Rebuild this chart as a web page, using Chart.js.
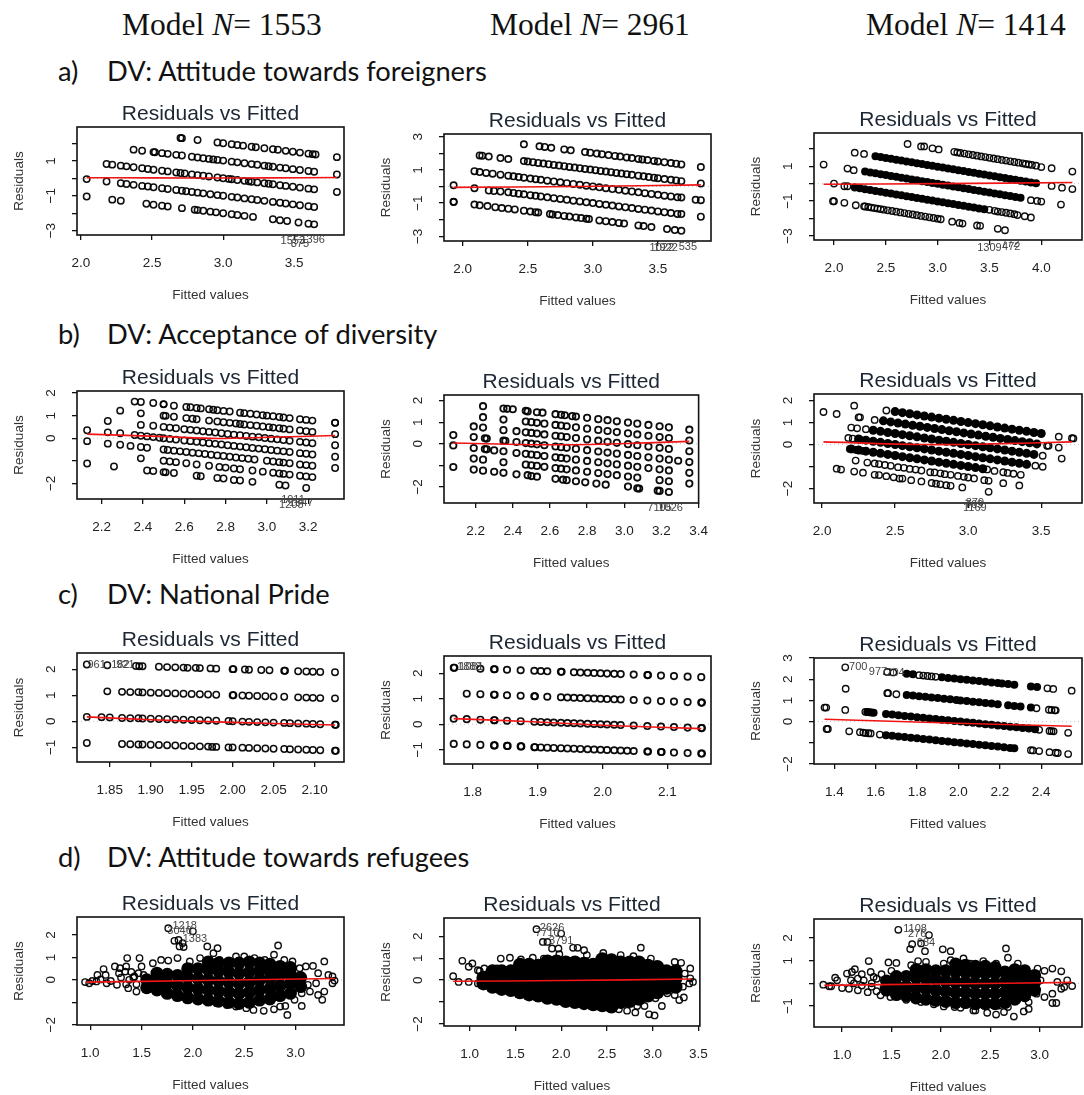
<!DOCTYPE html>
<html>
<head>
<meta charset="utf-8">
<title>Residuals vs Fitted</title>
<script src="https://cdn.jsdelivr.net/npm/chart.js@4/dist/chart.umd.min.js"></script>
<style>
  html, body { margin: 0; padding: 0; background: #fff; overflow: hidden; width: 1084px; height: 1095px; }
  canvas { position: absolute; filter: blur(0.4px); }
  .head { position: absolute; font-family: "Liberation Serif", serif; font-size: 31.5px; line-height: 36px; color: #111; white-space: pre; }
  .dv { position: absolute; font-family: Lato, sans-serif; font-size: 27.3px; line-height: 32px; color: #111; white-space: pre; }
</style>
</head>
<body>
<span class="head" style="left:122px;top:7px">Model <i>N</i>= 1553</span>
<span class="head" style="left:490px;top:7px">Model <i>N</i>= 2961</span>
<span class="head" style="left:866px;top:7px">Model <i>N</i>= 1414</span>
<span class="dv" style="left:58px;top:55px">a)</span><span class="dv" style="left:107px;top:55px">DV: Attitude towards foreigners</span>
<span class="dv" style="left:58px;top:318px">b)</span><span class="dv" style="left:107px;top:318px">DV: Acceptance of diversity</span>
<span class="dv" style="left:58px;top:578px">c)</span><span class="dv" style="left:107px;top:578px">DV: National Pride</span>
<span class="dv" style="left:58px;top:841px">d)</span><span class="dv" style="left:107px;top:841px">DV: Attitude towards refugees</span>
<script>
// [fitted, residual], panel by panel
const a1Points = [[2.7,2.32],[2.71,2.31],[2.82,2.2],[2.96,2.06],[3,2.02],[3.06,1.96],[3.1,1.92],[3.14,1.88],[3.2,1.82],[3.23,1.79],[3.29,1.73],[3.35,1.67],[3.385,1.64],[3.44,1.58],[3.49,1.53],[3.54,1.48],[3.6,1.42],[3.63,1.39],[3.65,1.37],
[2.37,1.65],[2.43,1.59],[2.51,1.51],[2.52,1.5],[2.57,1.45],[2.61,1.41],[2.67,1.35],[2.71,1.31],[2.78,1.24],[2.82,1.2],[2.86,1.16],[2.9,1.12],[2.93,1.09],[2.96,1.06],[3,1.02],[3.06,.96],[3.1,.92],[3.15,.87],[3.2,.82],[3.24,.78],[3.29,.73],[3.32,.7],[3.35,.67],[3.4,.62],[3.44,.58],[3.49,.53],[3.54,.48],[3.6,.42],[3.64,.38],
[2.18,.83],[2.22,.79],[2.28,.73],[2.32,.69],[2.37,.64],[2.43,.58],[2.47,.54],[2.51,.5],[2.57,.44],[2.61,.4],[2.67,.34],[2.7,.31],[2.73,.28],[2.78,.23],[2.82,.19],[2.86,.15],[2.9,.11],[2.96,.05],[3,.01],[3.04,-.03],[3.06,-.05],[3.1,-.09],[3.15,-.14],[3.18,-.17],[3.2,-.19],[3.24,-.23],[3.29,-.28],[3.32,-.31],[3.35,-.34],[3.4,-.39],[3.44,-.43],[3.49,-.48],[3.54,-.53],[3.6,-.59],[3.64,-.63],
[2.04,-.04],[2.18,-.18],[2.28,-.28],[2.32,-.32],[2.37,-.37],[2.43,-.43],[2.47,-.47],[2.51,-.51],[2.57,-.57],[2.61,-.61],[2.67,-.67],[2.71,-.71],[2.74,-.74],[2.78,-.78],[2.82,-.82],[2.86,-.86],[2.91,-.91],[2.96,-.96],[3,-1],[3.06,-1.06],[3.1,-1.1],[3.15,-1.15],[3.2,-1.2],[3.24,-1.24],[3.29,-1.29],[3.35,-1.35],[3.4,-1.4],[3.44,-1.44],[3.49,-1.49],[3.54,-1.54],[3.6,-1.6],[3.64,-1.64],
[2.04,-1.04],[2.22,-1.22],[2.28,-1.28],[2.46,-1.46],[2.51,-1.51],[2.57,-1.57],[2.61,-1.61],[2.71,-1.71],[2.8,-1.8],[2.82,-1.82],[2.86,-1.86],[2.91,-1.91],[2.95,-1.95],[3,-2],[3.06,-2.06],[3.1,-2.1],[3.15,-2.15],[3.21,-2.21],[3.35,-2.35],[3.4,-2.4],[3.45,-2.45],[3.53,-2.53],[3.6,-2.6],[3.64,-2.64],
[3.8,1.22],[3.8,.22],[3.8,-.78]];
const a1Dense = [];
const a1Smooth = [[2.04,.04],[2.5,.03],[3,.02],[3.3,.03],[3.8,.05]];
const a1XTicks = [2,2.5,3,3.5];
const a1YTicks = [-3,-2,-1,0,1,2];
const a1YLabels = [-3,-1,1];
const a1Ids = [["1553",3.49,-3.58],["875",3.54,-3.77],["1396",3.63,-3.54]];

const a2Points = [[2.47,2.54],[2.59,2.42],[2.63,2.38],[2.68,2.33],[2.78,2.23],[2.83,2.18],[2.94,2.07],[2.98,2.03],[3.03,1.98],[3.07,1.94],[3.12,1.89],[3.17,1.84],[3.21,1.8],[3.26,1.75],[3.3,1.71],[3.35,1.66],[3.38,1.63],[3.42,1.59],[3.47,1.54],[3.5,1.51],[3.55,1.46],[3.6,1.41],[3.64,1.37],[3.68,1.33],
[2.13,1.87],[2.15,1.85],[2.2,1.8],[2.29,1.71],[2.35,1.65],[2.47,1.53],[2.5,1.5],[2.54,1.46],[2.58,1.42],[2.62,1.38],[2.66,1.34],[2.7,1.3],[2.74,1.26],[2.78,1.22],[2.82,1.18],[2.86,1.14],[2.9,1.1],[2.94,1.06],[2.98,1.02],[3.02,.98],[3.06,.94],[3.1,.9],[3.14,.86],[3.18,.82],[3.22,.78],[3.26,.74],[3.3,.7],[3.35,.65],[3.39,.61],[3.43,.57],[3.47,.53],[3.5,.5],[3.55,.45],[3.6,.4],[3.64,.36],[3.68,.32],
[2.09,.92],[2.13,.87],[2.18,.82],[2.23,.77],[2.29,.71],[2.35,.65],[2.39,.61],[2.43,.57],[2.47,.53],[2.52,.48],[2.56,.44],[2.6,.4],[2.65,.35],[2.7,.3],[2.75,.25],[2.8,.2],[2.85,.15],[2.9,.1],[2.95,.05],[3,0],[3.05,-.05],[3.1,-.1],[3.15,-.15],[3.2,-.2],[3.25,-.25],[3.3,-.3],[3.35,-.35],[3.4,-.4],[3.45,-.45],[3.5,-.5],[3.55,-.55],[3.6,-.6],[3.65,-.65],[3.68,-.66],
[1.93,.07],[2.09,-.1],[2.2,-.24],[2.24,-.27],[2.29,-.3],[2.35,-.35],[2.39,-.39],[2.43,-.43],[2.47,-.47],[2.52,-.52],[2.56,-.56],[2.6,-.6],[2.65,-.65],[2.7,-.7],[2.75,-.75],[2.8,-.8],[2.85,-.85],[2.9,-.9],[2.95,-.95],[3,-1],[3.05,-1.05],[3.1,-1.1],[3.15,-1.15],[3.2,-1.2],[3.25,-1.25],[3.3,-1.3],[3.35,-1.35],[3.4,-1.4],[3.45,-1.45],[3.5,-1.5],[3.55,-1.55],[3.6,-1.6],[3.65,-1.65],[3.68,-1.66],
[1.93,-.92],[1.93,-.93],[2.09,-1.09],[2.13,-1.13],[2.19,-1.18],[2.25,-1.25],[2.3,-1.3],[2.35,-1.34],[2.4,-1.38],[2.47,-1.46],[2.52,-1.51],[2.56,-1.55],[2.58,-1.57],[2.67,-1.66],[2.69,-1.68],[2.73,-1.72],[2.78,-1.77],[2.82,-1.81],[2.87,-1.86],[2.91,-1.9],[2.95,-1.94],[2.97,-1.96],[3.05,-2.04],[3.1,-2.09],[3.15,-2.14],[3.2,-2.19],[3.24,-2.23],[3.35,-2.34],[3.39,-2.38],[3.45,-2.44],[3.57,-2.56],[3.63,-2.62],[3.68,-2.67],
[3.83,1.17],[3.83,.18],[3.83,-.82],[3.83,-1.82],[3.79,-.8]];
const a2Dense = [];
const a2Smooth = [[1.93,-.05],[2.88,0],[3.83,.1]];
const a2XTicks = [2,2.5,3,3.5];
const a2YTicks = [-3,-2,-1,0,1,2,3];
const a2YLabels = [-3,-1,1,3];
const a2Ids = [["1922",3.56,-3.7],["1022",3.53,-3.72],["535",3.73,-3.66]];

const a3Points = [[1.9,1.09],[2,0],[2.1,-.15],[2.13,-.15],[1.99,-1.01],[2,-1.01],[2.1,-1.1],[2.13,.86],[2.19,.77],[2.2,1.77],[2.29,1.7],[2.21,-1.24],[2.29,-1.3],[2.71,2.27],[2.84,2.13],[2.87,2.13],[2.95,2.02],[3.01,1.96],[4.3,.69],[4.3,-.31],[4.2,-.23],[4.19,-1.2],[4.1,.88],[4.1,-.13],[4,.95],[3.96,-.99],[4,-1.03],[3.9,-.95],[3.9,-1.94],[3.84,-1.87],[3.77,-1.8],[3.58,-2.59],[3.65,-2.67],[3.38,-2.4],[3.41,-2.42],[3.24,-2.29],[3.21,-2.25],[3.14,-2.18],
[3.16,1.82],[3.19,1.79],[3.22,1.76],[3.26,1.72],[3.3,1.68],[3.34,1.64],[3.38,1.6],[3.42,1.56],[3.46,1.52],[3.5,1.48],[3.54,1.44],[3.58,1.4],[3.62,1.36],[3.66,1.32],[3.7,1.28],[3.74,1.24],[3.78,1.2],[3.82,1.16],[3.85,1.13],[3.88,1.1],[3.91,1.07],[3.95,1.03],
[2.3,-1.31],[2.33,-1.34],[2.36,-1.37],[2.39,-1.4],[2.42,-1.43],[2.45,-1.46],[2.48,-1.49],[2.52,-1.53],[2.56,-1.57],[2.6,-1.61],[2.64,-1.65],[2.68,-1.69],[2.72,-1.73],[2.76,-1.77],[2.8,-1.81],[2.84,-1.85],[2.88,-1.89],[2.92,-1.93],[2.96,-1.97],[3,-2.01],[3.03,-2.04],
[3.5,-1.5],[3.55,-1.56],[3.58,-1.6],[3.62,-1.63],[3.66,-1.67],[3.7,-1.71],[3.74,-1.75]];
const a3Dense = [[2.4,1.57],[2.45,1.52],[2.5,1.47],[2.55,1.42],[2.6,1.37],[2.65,1.32],[2.7,1.27],[2.75,1.22],[2.8,1.17],[2.85,1.12],[2.9,1.07],[2.95,1.02],[3,.97],[3.05,.92],[3.1,.87],[3.15,.82],[3.2,.77],[3.25,.72],[3.3,.67],[3.35,.62],[3.4,.57],[3.45,.52],[3.5,.47],[3.55,.42],[3.6,.37],[3.65,.32],[3.7,.27],[3.75,.22],[3.8,.17],[3.85,.12],[3.9,.07],[3.95,.02],
[2.3,.69],[2.35,.64],[2.4,.59],[2.45,.54],[2.5,.49],[2.55,.44],[2.6,.39],[2.65,.34],[2.7,.29],[2.75,.24],[2.8,.19],[2.85,.14],[2.9,.09],[2.95,.04],[3,-.01],[3.05,-.06],[3.1,-.11],[3.15,-.16],[3.2,-.21],[3.25,-.26],[3.3,-.31],[3.35,-.36],[3.4,-.41],[3.45,-.46],[3.5,-.51],[3.55,-.56],[3.6,-.61],[3.65,-.66],[3.7,-.71],[3.75,-.76],[3.8,-.81],
[2.2,-.22],[2.25,-.27],[2.3,-.32],[2.35,-.37],[2.4,-.42],[2.45,-.47],[2.5,-.52],[2.55,-.57],[2.6,-.62],[2.65,-.67],[2.7,-.72],[2.75,-.77],[2.8,-.82],[2.85,-.87],[2.9,-.92],[2.95,-.97],[3,-1.02],[3.05,-1.07],[3.1,-1.12],[3.15,-1.17],[3.2,-1.22],[3.25,-1.27],[3.3,-1.32],[3.35,-1.37],[3.4,-1.42],[3.45,-1.47]];
const a3Smooth = [[1.9,-.04],[3,0],[4.3,.06]];
const a3XTicks = [2,2.5,3,3.5,4];
const a3YTicks = [-3,-2,-1,0,1,2];
const a3YLabels = [-3,-1,1];
const a3Ids = [["1309",3.5,-3.66],["472",3.71,-3.62],["772",3.7,-3.43]];

const b1Points = [[2.36,1.62],[2.39,1.6],[2.45,1.56],[2.5,1.51],[2.5,1.5],[2.55,1.44],[2.61,1.38],[2.63,1.37],[2.66,1.34],[2.68,1.32],[2.72,1.28],[2.74,1.26],[2.76,1.24],[2.79,1.21],[2.82,1.18],[2.87,1.13],[2.89,1.11],[2.92,1.08],[2.95,1.05],[2.98,1.02],[3,1],[3.03,.97],[3.06,.94],[3.08,.92],[3.11,.89],[3.16,.84],[3.19,.81],[3.22,.78],
[2.39,1.1],[2.5,1],[2.51,.99],[2.55,.95],[2.61,.89],[2.64,.86],[2.66,.84],[2.72,.78],[2.76,.74],[2.79,.71],[2.82,.68],[2.85,.65],[2.87,.63],[2.89,.61],[2.92,.58],[2.95,.55],[2.98,.52],[3.01,.49],[3.03,.47],[3.06,.44],[3.08,.42],[3.11,.39],[3.16,.34],[3.19,.31],[3.22,.28],
[2.39,.59],[2.45,.55],[2.5,.5],[2.53,.47],[2.56,.44],[2.6,.4],[2.63,.37],[2.66,.34],[2.69,.31],[2.72,.28],[2.75,.25],[2.78,.22],[2.81,.19],[2.84,.16],[2.87,.13],[2.9,.1],[2.93,.07],[2.96,.04],[2.99,.01],[3.02,-.02],[3.05,-.05],[3.08,-.08],[3.11,-.11],[3.16,-.16],[3.19,-.19],[3.22,-.22],
[2.36,.14],[2.39,.11],[2.42,.08],[2.45,.05],[2.48,.02],[2.5,0],[2.53,-.03],[2.56,-.06],[2.6,-.1],[2.63,-.13],[2.66,-.16],[2.69,-.19],[2.72,-.22],[2.75,-.25],[2.78,-.28],[2.81,-.31],[2.84,-.34],[2.87,-.37],[2.9,-.4],[2.93,-.43],[2.96,-.46],[2.99,-.49],[3.02,-.52],[3.05,-.55],[3.08,-.58],[3.11,-.61],[3.16,-.66],[3.19,-.69],[3.22,-.72],
[2.34,-.34],[2.39,-.39],[2.42,-.42],[2.5,-.5],[2.52,-.52],[2.55,-.55],[2.58,-.58],[2.61,-.61],[2.64,-.64],[2.67,-.67],[2.7,-.7],[2.73,-.73],[2.76,-.76],[2.79,-.79],[2.82,-.82],[2.85,-.85],[2.88,-.88],[2.91,-.91],[2.94,-.94],[3,-1],[3.03,-1.03],[3.06,-1.06],[3.08,-1.08],[3.11,-1.11],[3.16,-1.16],[3.19,-1.19],[3.22,-1.22],
[2.39,-.89],[2.5,-1],[2.53,-1.03],[2.56,-1.06],[2.61,-1.11],[2.66,-1.16],[2.72,-1.22],[2.77,-1.27],[2.8,-1.3],[2.84,-1.34],[2.87,-1.37],[2.93,-1.43],[2.98,-1.48],[3.03,-1.53],[3.06,-1.56],[3.08,-1.58],[3.11,-1.61],[3.16,-1.66],[3.19,-1.69],[3.22,-1.72],
[2.42,-1.43],[2.45,-1.45],[2.5,-1.5],[2.51,-1.51],[2.55,-1.54],[2.66,-1.66],[2.68,-1.68],[2.76,-1.76],[2.79,-1.78],[2.84,-1.85],[2.87,-1.87],[2.93,-1.93],[3.06,-2.06],[3.09,-2.09],[3.19,-2.2],
[2.13,.35],[2.13,-.13],[2.13,-1.12],[2.23,.76],[2.23,.26],[2.23,-.24],[2.26,-1.25],[2.29,1.22],[2.29,.22],[2.29,-.29],
[3.33,.69],[3.33,.68],[3.33,.18],[3.33,-.31],[3.33,-.82],[3.33,-1.32]];
const b1Dense = [];
const b1Smooth = [[2.13,.18],[2.51,.07],[2.76,-.01],[3,.04],[3.33,.12]];
const b1XTicks = [2.2,2.4,2.6,2.8,3,3.2];
const b1YTicks = [-2,-1,0,1,2];
const b1YLabels = [-2,0,1,2];
const b1Ids = [["1205",3.118,-2.96],["1347",3.166,-2.85],["1911",3.126,-2.73]];

const b2Points = [[2.08,.4],[2.08,-.08],[2.08,-1.08],[2.19,.8],[2.24,.75],[2.19,.31],[2.25,.25],[2.26,.24],[2.19,-.2],[2.25,-.25],[2.26,-.26],[2.19,-.69],[2.24,-.74],[2.19,-1.2],[2.24,-1.25],[2.24,1.23],[2.24,1.74],[2.3,-.31],[2.35,-.35],[2.35,.14],[2.36,.13],[2.35,.63],[2.35,1.12],[2.35,1.63],[2.37,1.62],[2.4,1.6],[2.35,-.86],[2.35,-1.35],[2.3,-1.3],[2.42,.58],[2.42,.08],[2.42,-.43],[2.42,-1.42],
[2.47,1.53],[2.48,1.5],[2.53,1.46],[2.56,1.44],[2.63,1.37],[2.66,1.34],[2.68,1.32],[2.72,1.28],[2.74,1.26],[2.8,1.2],[2.86,1.14],[2.91,1.09],[2.96,1.04],[3.02,.98],[3.07,.93],[3.13,.87],[3.19,.81],[3.24,.76],
[2.47,1.03],[2.5,1],[2.53,.97],[2.57,.93],[2.63,.87],[2.66,.84],[2.69,.81],[2.74,.76],[2.8,.7],[2.86,.64],[2.91,.59],[2.96,.54],[3.02,.48],[3.07,.43],[3.13,.37],[3.19,.31],[3.24,.26],
[2.47,.53],[2.5,.5],[2.53,.47],[2.57,.43],[2.63,.37],[2.66,.34],[2.69,.31],[2.74,.26],[2.8,.2],[2.86,.14],[2.91,.09],[2.96,.04],[3.02,-.02],[3.07,-.07],[3.13,-.13],[3.19,-.19],[3.24,-.24],
[2.47,.03],[2.5,0],[2.53,-.03],[2.57,-.07],[2.63,-.13],[2.66,-.16],[2.69,-.19],[2.74,-.24],[2.8,-.3],[2.86,-.36],[2.91,-.41],[2.96,-.46],[3.02,-.52],[3.07,-.57],[3.13,-.63],[3.19,-.69],[3.24,-.74],[3.29,-.79],
[2.47,-.47],[2.5,-.5],[2.53,-.53],[2.57,-.57],[2.63,-.63],[2.66,-.66],[2.69,-.69],[2.74,-.74],[2.8,-.8],[2.86,-.86],[2.91,-.91],[2.96,-.96],[3.02,-1.02],[3.07,-1.07],[3.13,-1.13],[3.19,-1.19],[3.24,-1.24],
[2.47,-.97],[2.5,-1],[2.53,-1.03],[2.57,-1.07],[2.63,-1.13],[2.66,-1.16],[2.69,-1.19],[2.74,-1.24],[2.8,-1.3],[2.86,-1.36],[2.91,-1.41],[2.96,-1.46],[3.02,-1.52],[3.07,-1.57],[3.19,-1.69],[3.24,-1.74],
[2.48,-1.46],[2.5,-1.5],[2.53,-1.53],[2.63,-1.63],[2.67,-1.67],[2.69,-1.69],[2.74,-1.74],[2.79,-1.79],[2.85,-1.85],[2.9,-1.9],[3.02,-1.99],[3.07,-2.07],[3.08,-2.08],[3.18,-2.18],[3.19,-2.19],[3.24,-2.24],
[3.35,.65],[3.35,.15],[3.35,-.35],[3.35,-.85],[3.35,-1.35],[3.35,-1.85]];
const b2Dense = [];
const b2Smooth = [[2.08,.03],[2.62,-.05],[2.97,0],[3.35,.11]];
const b2XTicks = [2.2,2.4,2.6,2.8,3,3.2,3.4];
const b2YTicks = [-2,-1,0,1,2];
const b2YLabels = [-2,0,1,2];
const b2Ids = [["7105",3.19,-3],["1026",3.25,-2.97]];

const b3Points = [[2.01,1.48],[2.1,1.39],[2.22,1.77],[2.25,1.24],[2.26,1.24],[2.2,.77],[2.24,.74],[2.18,.3],[2.21,.27],[2.26,.23],[2.19,-.2],[2.23,-.24],[2.28,-.29],[2.23,-.73],[2.1,-1.1],[2.13,-1.14],[2.22,-1.23],[2.28,-1.28],[2.31,-.82],
[2.44,1.55],[3.62,.36],[3.71,.29],[3.72,.28],[2.36,1.12],[3.54,-.06],[3.55,-.05],[3.62,-.14],[2.3,.7],[3.64,-.64],[3.51,-.51],[3.46,-.96],[3.51,-1.01],
[2.36,-.86],[2.39,-.89],[2.43,-.93],[2.47,-.97],[2.52,-1.03],[2.56,-1.06],[2.6,-1.11],[2.64,-1.14],[2.68,-1.18],[2.74,-1.26],[2.77,-1.27],[2.81,-1.31],[2.84,-1.35],[2.88,-1.38],[2.93,-1.43],[2.97,-1.47],[3,-1.5],[3.04,-1.54],[3.11,-1.62],[3.14,-1.65],[3.24,-1.76],[3.35,-1.86],
[2.36,-1.38],[2.39,-1.39],[2.44,-1.44],[2.49,-1.49],[2.53,-1.55],[2.55,-1.55],[2.61,-1.62],[2.68,-1.68],[2.75,-1.75],[2.78,-1.78],[2.81,-1.81],[2.85,-1.85],[2.88,-1.88],[2.96,-1.95],[3.14,-2.15],[3.13,-1.13],
[3.18,-1.2],[3.24,-1.26],[3.27,-1.29],[3.31,-1.33],[3.36,-1.38]];
const b3Dense = [[2.5,1.5],[2.55,1.45],[2.6,1.4],[2.65,1.35],[2.7,1.3],[2.75,1.25],[2.8,1.2],[2.85,1.15],[2.9,1.1],[2.95,1.05],[3,1],[3.05,.95],[3.1,.9],[3.15,.85],[3.2,.8],[3.25,.75],[3.3,.7],[3.35,.65],[3.4,.6],[3.45,.55],[3.5,.5],
[2.42,1.08],[2.47,1.03],[2.52,.98],[2.57,.93],[2.62,.88],[2.67,.83],[2.72,.78],[2.77,.73],[2.82,.68],[2.87,.63],[2.92,.58],[2.97,.53],[3.02,.48],[3.07,.43],[3.12,.38],[3.17,.33],[3.22,.28],[3.27,.23],[3.32,.18],[3.37,.13],[3.42,.08],[3.47,.03],
[2.35,.65],[2.4,.6],[2.45,.55],[2.5,.5],[2.55,.45],[2.6,.4],[2.65,.35],[2.7,.3],[2.75,.25],[2.8,.2],[2.85,.15],[2.9,.1],[2.95,.05],[3,0],[3.05,-.05],[3.1,-.1],[3.15,-.15],[3.2,-.2],[3.25,-.25],[3.3,-.3],[3.35,-.35],[3.4,-.4],[3.45,-.45],
[2.25,.25],[2.3,.2],[2.35,.15],[2.4,.1],[2.45,.05],[2.5,0],[2.55,-.05],[2.6,-.1],[2.65,-.15],[2.7,-.2],[2.75,-.25],[2.8,-.3],[2.85,-.35],[2.9,-.4],[2.95,-.45],[3,-.5],[3.05,-.55],[3.1,-.6],[3.15,-.65],[3.2,-.7],[3.25,-.75],[3.3,-.8],[3.35,-.85],[3.4,-.9],
[2.2,-.2],[2.25,-.25],[2.3,-.3],[2.35,-.35],[2.4,-.4],[2.45,-.45],[2.5,-.5],[2.55,-.55],[2.6,-.6],[2.65,-.65],[2.7,-.7],[2.75,-.75],[2.8,-.8],[2.85,-.85],[2.9,-.9],[2.95,-.95],[3,-1],[3.05,-1.05],[3.1,-1.1]];
const b3Smooth = [[2.01,.12],[2.7,0],[3.16,.03],[3.71,.12]];
const b3XTicks = [2,2.5,3,3.5];
const b3YTicks = [-2,-1,0,1,2];
const b3YLabels = [-2,0,1,2];
const b3Ids = [["879",3.046,-2.64],["769",3.04,-2.77],["1169",3.046,-2.89]];

const c1Points = [[1.822,2.18],[1.847,2.15],[1.882,2.12],[1.886,2.11],[1.89,2.11],[1.91,2.09],[1.92,2.08],[1.93,2.07],[1.94,2.06],[1.945,2.05],[1.955,2.05],[1.96,2.04],[1.973,2.03],[1.98,2.02],[2,2],[2.001,2],[2.015,1.99],[2.02,1.98],[2.035,1.97],[2.045,1.96],[2.063,1.94],[2.064,1.94],[2.08,1.92],[2.09,1.91],[2.098,1.9],[2.107,1.89],[2.125,1.88],
[1.847,1.15],[1.865,1.13],[1.875,1.12],[1.885,1.12],[1.89,1.11],[1.9,1.1],[1.91,1.09],[1.92,1.08],[1.93,1.07],[1.94,1.06],[1.95,1.05],[1.96,1.04],[1.97,1.03],[1.98,1.02],[2,1],[2.001,1],[2.012,.99],[2.02,.98],[2.03,.97],[2.04,.96],[2.05,.95],[2.063,.94],[2.08,.92],[2.09,.91],[2.098,.9],[2.107,.89],[2.125,.88],
[1.822,.17],[1.84,.16],[1.85,.15],[1.865,.13],[1.875,.12],[1.885,.12],[1.89,.11],[1.9,.1],[1.91,.09],[1.92,.08],[1.93,.07],[1.94,.06],[1.95,.05],[1.96,.04],[1.97,.03],[1.98,.02],[1.995,.01],[2,0],[2.012,-.01],[2.02,-.02],[2.03,-.03],[2.04,-.04],[2.05,-.05],[2.063,-.06],[2.07,-.07],[2.08,-.08],[2.09,-.09],[2.098,-.1],[2.107,-.11],[2.125,-.13],[2.126,-.13],
[1.822,-.83],[1.865,-.87],[1.875,-.88],[1.885,-.89],[1.89,-.89],[1.9,-.9],[1.91,-.91],[1.92,-.92],[1.93,-.93],[1.94,-.94],[1.95,-.95],[1.96,-.96],[1.97,-.97],[1.975,-.98],[1.98,-.98],[1.995,-1],[2,-1],[2.012,-1.01],[2.02,-1.02],[2.03,-1.03],[2.04,-1.04],[2.05,-1.05],[2.063,-1.06],[2.07,-1.07],[2.08,-1.08],[2.09,-1.09],[2.098,-1.1],[2.107,-1.11],[2.125,-1.13],[2.126,-1.13]];
const c1Dense = [];
const c1Smooth = [[1.822,.17],[1.9,.06],[2,-.04],[2.125,-.14]];
const c1XTicks = [1.85,1.9,1.95,2,2.05,2.1];
const c1YTicks = [-1,0,1,2];
const c1YLabels = [-1,0,1,2];
const c1Ids = [["961",1.834,2.17],["182",1.863,2.17],["921",1.869,2.17]];

const c2Points = [[1.771,2.22],[1.772,2.22],[1.812,2.18],[1.833,2.16],[1.834,2.16],[1.853,2.14],[1.874,2.12],[1.895,2.1],[1.905,2.09],[1.915,2.08],[1.936,2.06],[1.937,2.06],[1.956,2.04],[1.966,2.03],[1.977,2.02],[1.987,2.01],[1.997,2],[2.007,1.99],[2.018,1.98],[2.028,1.97],[2.048,1.95],[2.069,1.93],[2.07,1.93],[2.09,1.91],[2.11,1.89],[2.131,1.87],[2.152,1.85],
[1.791,1.2],[1.812,1.18],[1.833,1.16],[1.834,1.16],[1.853,1.14],[1.874,1.12],[1.895,1.1],[1.896,1.1],[1.915,1.08],[1.936,1.06],[1.946,1.05],[1.956,1.04],[1.966,1.03],[1.977,1.02],[1.987,1.01],[1.997,1],[2.007,.99],[2.018,.98],[2.028,.97],[2.048,.95],[2.069,.93],[2.09,.91],[2.11,.89],[2.131,.87],[2.152,.85],[2.153,.85],
[1.771,.22],[1.791,.2],[1.812,.18],[1.833,.16],[1.834,.16],[1.853,.14],[1.874,.12],[1.895,.1],[1.905,.09],[1.915,.08],[1.925,.07],[1.936,.06],[1.946,.05],[1.956,.04],[1.966,.03],[1.977,.02],[1.987,.01],[1.997,0],[2.007,-.01],[2.018,-.02],[2.028,-.03],[2.048,-.05],[2.069,-.07],[2.09,-.09],[2.11,-.11],[2.131,-.13],[2.152,-.15],[2.153,-.15],
[1.771,-.77],[1.791,-.79],[1.812,-.81],[1.833,-.83],[1.834,-.83],[1.853,-.85],[1.854,-.85],[1.874,-.87],[1.875,-.87],[1.895,-.9],[1.896,-.9],[1.905,-.91],[1.915,-.92],[1.925,-.93],[1.936,-.94],[1.946,-.95],[1.956,-.96],[1.966,-.97],[1.977,-.98],[1.987,-.99],[1.997,-1],[2.007,-1.01],[2.018,-1.02],[2.028,-1.03],[2.038,-1.04],[2.048,-1.05],[2.069,-1.07],[2.07,-1.07],[2.09,-1.09],[2.091,-1.09],[2.11,-1.11],[2.131,-1.13],[2.152,-1.15],[2.153,-1.15]];
const c2Dense = [];
const c2Smooth = [[1.771,.22],[1.893,.1],[2,-.04],[2.152,-.17]];
const c2XTicks = [1.8,1.9,2,2.1];
const c2YTicks = [-1,0,1,2];
const c2YLabels = [-1,0,1,2];
const c2Ids = [["1888",1.795,2.24],["1081",1.798,2.23]];

const c3Points = [[1.353,.66],[1.361,.66],[1.369,-.35],[1.363,-.35],[1.453,2.56],[1.455,1.55],[1.453,.55],[1.472,-.46],[1.524,-.5],[1.54,-.52],[1.551,-.54],[1.565,-.55],[1.576,-.56],[1.62,-.61],
[1.656,2.34],[1.685,2.32],[1.81,2.19],[1.83,2.17],[1.85,2.15],[1.87,2.13],[1.89,2.11],[2.43,1.57],[2.458,1.54],[2.547,1.46],
[1.656,1.34],[1.66,1.34],[1.7,1.29],[2.377,.63],[2.437,.56],[2.45,.55],[2.465,.53],[2.47,.53],
[1.55,.46],[1.56,.45],[1.57,.44],[1.58,.43],[2.39,-.39],[2.44,-.44],[2.45,-.45],[2.46,-.46],[2.53,-.53],
[2.35,-1.35],[2.36,-1.36],[2.39,-1.39],[2.44,-1.44],[2.47,-1.47],[2.48,-1.48],[2.53,-1.53]];
const c3Dense = [[1.75,2.26],[1.78,2.23],[1.92,2.09],[1.95,2.06],[1.98,2.03],[2.01,2],[2.04,1.97],[2.07,1.94],[2.1,1.91],[2.13,1.88],[2.16,1.85],[2.19,1.82],[2.21,1.8],[2.24,1.77],[2.27,1.74],[2.35,1.66],[2.38,1.63],
[1.75,1.26],[1.78,1.23],[1.81,1.2],[1.84,1.17],[1.87,1.14],[1.9,1.11],[1.93,1.08],[1.96,1.05],[1.99,1.02],[2.01,1],[2.04,.97],[2.07,.94],[2.1,.91],[2.13,.88],[2.16,.85],[2.19,.82],[2.24,.77],[2.27,.74],[2.3,.71],[2.35,.66],
[1.56,.45],[1.59,.42],[1.65,.36],[1.68,.33],[1.71,.3],[1.74,.27],[1.77,.24],[1.8,.21],[1.83,.18],[1.86,.15],[1.89,.12],[1.92,.09],[1.95,.06],[1.98,.03],[2.01,0],[2.04,-.03],[2.07,-.06],[2.1,-.09],[2.13,-.12],[2.16,-.15],[2.19,-.18],[2.22,-.21],[2.25,-.24],[2.28,-.27],[2.31,-.3],[2.34,-.33],[2.37,-.36],
[1.65,-.64],[1.68,-.67],[1.71,-.7],[1.74,-.73],[1.77,-.76],[1.8,-.79],[1.83,-.82],[1.86,-.85],[1.89,-.88],[1.92,-.91],[1.95,-.94],[1.98,-.97],[2.01,-1],[2.04,-1.03],[2.07,-1.06],[2.1,-1.09],[2.13,-1.12],[2.16,-1.15],[2.19,-1.18],[2.22,-1.21],[2.25,-1.24],[2.27,-1.26]];
const c3Smooth = [[1.353,.11],[1.994,-.08],[2.547,-.22]];
const c3XTicks = [1.4,1.6,1.8,2,2.2,2.4];
const c3YTicks = [-2,-1,0,1,2,3];
const c3YLabels = [-2,0,1,2,3];
const c3Ids = [["700",1.516,2.56],["977",1.611,2.32],["204",1.696,2.29]];

const d1Points = [[1.76,2.3],[2,2.16],[1.82,1.74],[1.86,1.78],[1.9,1.64],[1.87,1.49],[1.91,1.46],[2.14,1.49],[2.24,1.41],[2.2,1.19],[2.83,1.53],[2.79,1.12],[1.36,.97],[1.48,.97],[1.24,.6],[1.29,.52],[1.35,.6],[1.34,.37],[1.13,.48],[1.07,.22],[1.15,.22],[.95,-.1],[.99,-.15],[3.38,-.03],[3.28,.82],[3.17,.62],[3.1,.6],[2.92,-1.56],[3.06,-1.16],[2.69,-1.38],[2.79,-1.31],[2.85,-1.19],[2.9,-1.16],[2.59,-1.34],[2.52,-1.26],[2.42,-1.19],[2.33,-1.12],[2.23,-1.04],[2.13,-.92],[2.03,-.82],[1.94,-.67],[1.84,-.52],[1.74,-.37],[1.65,-.25],[1.55,-.15],[1.45,-.52],[1.37,-.37],[1.26,-.22],[1.16,-.15],[1.06,-.07],[1.5,.6],[1.43,.15],[1.52,.22],[1.61,.74],[1.69,.89],[1.76,.86],[1.85,.97],[1.97,.82],[2.07,.97],[2.26,.89],[2.42,1.04],[2.5,1.04],[2.6,.97],[2.7,.89],[2.89,.89],[2.97,.82],[3.04,.52],[3.22,.3],[3.32,.22],[3.36,.15],[3.28,-.52],[3.26,-.89],[3.22,-.67],[3.14,-.52],[3.12,-.22],[3.2,-.15],[2.99,-.89],[3.06,-.6],[3.36,-.15],[3.06,-.15],
[1.3,.1],[1.38,0],[1.42,.1],[1.45,-.2],[1.47,.3],[1.4,.35],[1.28,.3],[1.2,-.05],[1.1,.02],[1.02,-.05],[1.35,-.2]];
const d1Dense = [[1.55,-.35],[1.55,0],[1.65,-.45],[1.65,-.05],[1.65,.3],[1.75,-.6],[1.75,-.15],[1.75,.25],[1.85,-.7],[1.85,-.25],[1.85,.2],[1.95,-.8],[1.95,-.35],[1.95,.1],[1.95,.5],[2.05,-.85],[2.05,-.4],[2.05,.05],[2.05,.5],[2.15,-.9],[2.15,-.45],[2.15,0],[2.15,.45],[2.15,.8],[2.25,-.95],[2.25,-.5],[2.25,-.05],[2.25,.4],[2.25,.75],[2.35,-1],[2.35,-.55],[2.35,-.1],[2.35,.35],[2.35,.75],[2.45,-1.05],[2.45,-.6],[2.45,-.15],[2.45,.3],[2.45,.75],[2.55,-1],[2.55,-.55],[2.55,-.1],[2.55,.35],[2.55,.8],[2.65,-.9],[2.65,-.45],[2.65,0],[2.65,.4],[2.65,.75],[2.75,-.85],[2.75,-.4],[2.75,.05],[2.75,.45],[2.75,.7],[2.85,-.7],[2.85,-.25],[2.85,.2],[2.85,.6],[2.95,-.6],[2.95,-.15],[2.95,.25],[2.95,.55],[3.05,-.3],[3.05,.1]];
const d1Smooth = [[.96,-.1],[2.07,-.03],[3.38,.06]];
const d1XTicks = [1,1.5,2,2.5,3];
const d1YTicks = [-2,-1,0,1,2];
const d1YLabels = [-2,0,1,2];
const d1Ids = [["1218",1.92,2.38],["3046",1.87,2.2],["1383",2.02,1.83]];

const d2Points = [[.82,.18],[.92,.88],[.99,.61],[1.03,.76],[.88,-.08],[1.09,.45],[1.11,.42],[1.73,2.32],[2,2.12],[1.8,1.74],[1.85,1.74],[1.9,1.44],[1.97,1.44],[1.98,1.18],[2.13,1.47],[2.18,1.47],[2.25,1.36],[2.28,1.14],[2.46,1.24],[2.87,1.48],[2.79,1.09],[2.65,1.14],[2.98,.98],[1.34,.98],[1.44,1.02],[1.56,.94],[1.69,1.02],[1.81,.98],[3.24,.83],[3.31,.79],[3.41,.53],[3.41,.08],[3.35,.3],[3.44,-.08],[3.34,-.79],[3.29,-.91],[3.24,-.68],[3.1,-1.18],[3.02,-1.61],[2.96,-1.56],[2.91,-1.18],[2.83,-1.18],[2.81,-1.47],[2.72,-1.39],[2.63,-1.33],[2.53,-1.24],[2.44,-1.17],[2.7,-.83],[3.03,-.83],[3.16,-.6],[2.32,-1.09],[2.14,-.94],[1.93,-.76],[1.72,-.61],[1.51,-.45],[1.3,-.3],[1.09,-.15],[.99,-.08],[1.23,.3],[1.18,.08],[1.3,.53],[1.16,.53],[3.33,-.3],[3.24,-.3],[3.4,-.15]];
const d2Dense = [[1.15,-.15],[1.15,.1],[1.25,-.3],[1.25,.1],[1.25,.4],[1.35,-.4],[1.35,0],[1.35,.4],[1.45,-.45],[1.45,-.05],[1.45,.4],[1.55,-.55],[1.55,-.1],[1.55,.35],[1.55,.7],[1.65,-.65],[1.65,-.2],[1.65,.25],[1.65,.7],[1.75,-.7],[1.75,-.25],[1.75,.2],[1.75,.65],[1.85,-.8],[1.85,-.35],[1.85,.1],[1.85,.55],[1.85,.85],[1.95,-.85],[1.95,-.4],[1.95,.05],[1.95,.5],[1.95,.85],[2.05,-.95],[2.05,-.5],[2.05,-.05],[2.05,.4],[2.05,.8],[2.15,-1],[2.15,-.55],[2.15,-.1],[2.15,.35],[2.15,.8],[2.25,-1.05],[2.25,-.6],[2.25,-.15],[2.25,.3],[2.25,.75],[2.35,-1.1],[2.35,-.65],[2.35,-.2],[2.35,.25],[2.35,.7],[2.45,-1.15],[2.45,-.7],[2.45,-.25],[2.45,.2],[2.45,.65],[2.45,.95],[2.55,-1.2],[2.55,-.75],[2.55,-.3],[2.55,.15],[2.55,.6],[2.55,.9],[2.65,-1],[2.65,-.55],[2.65,-.1],[2.65,.35],[2.65,.8],[2.75,-.95],[2.75,-.5],[2.75,-.05],[2.75,.4],[2.75,.8],[2.85,-.85],[2.85,-.4],[2.85,.05],[2.85,.5],[2.85,.8],[2.95,-.7],[2.95,-.25],[2.95,.2],[2.95,.65],[3.05,-.55],[3.05,-.1],[3.05,.3],[3.05,.6],[3.15,-.35],[3.15,.05],[3.15,.4],[3.25,-.3],[3.25,.1],[3.25,.4]];
const d2Smooth = [[.82,-.05],[2,-.02],[3.42,.05]];
const d2XTicks = [1,1.5,2,2.5,3,3.5];
const d2YTicks = [-2,-1,0,1,2];
const d2YLabels = [-2,0,1,2];
const d2Ids = [["2626",1.9,2.38],["7710",1.85,2.17],["3791",2,1.8]];

const d3Points = [[.81,-.06],[.87,-.13],[.89,-.13],[.93,.25],[.95,.13],[1,-.21],[1.05,.43],[1.1,.5],[1.13,.62],[1.09,.13],[1.16,.21],[1.2,.4],[1.27,.98],[1.29,.5],[1.22,.13],[1.32,.28],[1.07,-.24],[1.16,-.31],[1.26,-.39],[1.39,-.53],[1.49,-.61],[1.65,-.73],[1.8,-.83],[1.93,-.93],[2.03,-1.02],[2.14,-1.05],[2.2,-1.08],[2.33,-1.2],[2.35,-1.2],[2.47,-1.3],[2.56,-1.38],[2.64,-1.27],[2.74,-1.47],[2.68,-1.05],[2.59,-.98],[2.84,-1.24],[2.89,-1.13],[2.89,-.83],[2.44,-.98],[1.57,2.36],[1.88,2.13],[1.71,1.73],[1.8,1.76],[1.69,1.51],[1.84,1.42],[2.02,1.5],[2.1,1.42],[2.66,1.54],[2.68,1.13],[1.47,.92],[1.55,.9],[1.7,.8],[1.77,.98],[1.85,.95],[2.03,.87],[2.1,1.02],[2.23,1.1],[2.3,.87],[2.43,.98],[2.56,.87],[2.78,.87],[2.86,.65],[2.98,.65],[3.05,.55],[3.13,.65],[3.22,.53],[3.33,-.12],[3.18,.06],[3.25,-.16],[3.17,-.87],[3.13,-.87],[3.05,-.61],[2.97,-.46],[3.13,-.46],[3.22,-.24],[3.28,.13],[3.01,.13],[2.91,-.01],
[1.2,-.1],[1.3,0],[1.35,.2],[1.4,.4],[1.42,-.2],[1.3,-.15],[1.35,-.35],[1.12,0],[1.5,.55]];
const d3Dense = [[1.45,-.3],[1.45,.1],[1.55,-.5],[1.55,-.1],[1.55,.3],[1.65,-.55],[1.65,-.15],[1.65,.3],[1.75,-.65],[1.75,-.2],[1.75,.25],[1.75,.6],[1.85,-.7],[1.85,-.25],[1.85,.2],[1.85,.6],[1.95,-.75],[1.95,-.3],[1.95,.15],[1.95,.55],[2.05,-.8],[2.05,-.35],[2.05,.1],[2.05,.55],[2.15,-.85],[2.15,-.4],[2.15,.05],[2.15,.5],[2.15,.85],[2.25,-.85],[2.25,-.4],[2.25,.05],[2.25,.5],[2.25,.8],[2.35,-.9],[2.35,-.45],[2.35,0],[2.35,.45],[2.35,.75],[2.45,-.9],[2.45,-.45],[2.45,0],[2.45,.45],[2.45,.75],[2.55,-.9],[2.55,-.45],[2.55,0],[2.55,.45],[2.55,.7],[2.65,-.85],[2.65,-.4],[2.65,.05],[2.65,.5],[2.75,-.7],[2.75,-.25],[2.75,.2],[2.75,.6],[2.85,-.55],[2.85,-.1],[2.85,.3],[2.85,.55],[2.95,-.3],[2.95,.05],[2.95,.35]];
const d3Smooth = [[.82,-.09],[2,-.03],[3.33,.04]];
const d3XTicks = [1,1.5,2,2.5,3];
const d3YTicks = [-1,0,1,2];
const d3YLabels = [-1,1,2];
const d3Ids = [["1108",1.74,2.39],["276",1.76,2.16],["684",1.85,1.76]];

// box = left, top, right, bottom of the plot region on the page
const panels = [
  {box:[77,127,344,235], xr:[1.972,3.85], yr:[-3.25,2.95], dec:1, ring:1.5, dense:0, pts:a1Points, den:a1Dense, sm:a1Smooth, xt:a1XTicks, yt:a1YTicks, yl:a1YLabels, ids:a1Ids},
  {box:[444,134,711,241], xr:[1.856,3.908], yr:[-3.28,3.16], dec:1, ring:1.6, dense:0, pts:a2Points, den:a2Dense, sm:a2Smooth, xt:a2XTicks, yt:a2YTicks, yl:a2YLabels, ids:a2Ids},
  {box:[814,133,1082,240], xr:[1.807,4.393], yr:[-3.23,2.9], dec:1, ring:1.4, dense:4, pts:a3Points, den:a3Dense, sm:a3Smooth, xt:a3XTicks, yt:a3YTicks, yl:a3YLabels, ids:a3Ids},
  {box:[77,391,344,499], xr:[2.081,3.373], yr:[-2.69,2.09], dec:1, ring:1.5, dense:0, pts:b1Points, den:b1Dense, sm:b1Smooth, xt:b1XTicks, yt:b1YTicks, yl:b1YLabels, ids:b1Ids},
  {box:[444,395,711,503], xr:[2.03,3.4], yr:[-2.75,2.26], dec:1, ring:1.8, dense:0, pts:b2Points, den:b2Dense, sm:b2Smooth, xt:b2XTicks, yt:b2YTicks, yl:b2YLabels, ids:b2Ids},
  {box:[814,394,1082,503], xr:[1.945,3.779], yr:[-2.66,2.3], dec:1, ring:1.4, dense:4.5, pts:b3Points, den:b3Dense, sm:b3Smooth, xt:b3XTicks, yt:b3YTicks, yl:b3YLabels, ids:b3Ids},
  {box:[77,653,344,762], xr:[1.81,2.136], yr:[-1.56,2.62], dec:2, ring:1.5, dense:0, pts:c1Points, den:c1Dense, sm:c1Smooth, xt:c1XTicks, yt:c1YTicks, yl:c1YLabels, ids:c1Ids},
  {box:[444,656,711,764], xr:[1.756,2.167], yr:[-1.56,2.68], dec:1, ring:1.7, dense:0, pts:c2Points, den:c2Dense, sm:c2Smooth, xt:c2XTicks, yt:c2YTicks, yl:c2YLabels, ids:c2Ids},
  {box:[814,658,1082,764], xr:[1.302,2.597], yr:[-2,3], dec:1, ring:1.4, dense:4, pts:c3Points, den:c3Dense, sm:c3Smooth, xt:c3XTicks, yt:c3YTicks, yl:c3YLabels, ids:c3Ids},
  {box:[77,917,344,1025], xr:[.871,3.472], yr:[-2.01,2.8], dec:1, ring:1.4, dense:6.5, pts:d1Points, den:d1Dense, sm:d1Smooth, xt:d1XTicks, yt:d1YTicks, yl:d1YLabels, ids:d1Ids},
  {box:[444,918,711,1026], xr:[.72,3.515], yr:[-2.09,2.83], dec:1, ring:1.4, dense:7, pts:d2Points, den:d2Dense, sm:d2Smooth, xt:d2XTicks, yt:d2YTicks, yl:d2YLabels, ids:d2Ids},
  {box:[814,919,1082,1027], xr:[.716,3.43], yr:[-1.93,2.84], dec:1, ring:1.4, dense:6.5, pts:d3Points, den:d3Dense, sm:d3Smooth, xt:d3XTicks, yt:d3YTicks, yl:d3YLabels, ids:d3Ids}
];

const yAxisWidth = 66;
const xAxisHeight = 68;
const aboveBox = 29;
const rightPad = 12;
const sans = '"Liberation Sans", Arial, sans-serif';

function toXY(list) {
  return list.map(function (p) { return { x: p[0], y: p[1] }; });
}

panels.forEach(function (p) {
  const canvas = document.createElement('canvas');
  const w = p.box[2] - p.box[0];
  const h = p.box[3] - p.box[1];
  canvas.width = yAxisWidth + w + rightPad;
  canvas.height = aboveBox + h + xAxisHeight;
  canvas.style.left = (p.box[0] - yAxisWidth) + 'px';
  canvas.style.top = (p.box[1] - aboveBox) + 'px';
  document.body.appendChild(canvas);

  // frame round the plot and the point ids R writes next to outliers
  const frameAndIds = {
    id: 'frameAndIds',
    afterDraw: function (chart) {
      const ctx = chart.ctx;
      const a = chart.chartArea;
      ctx.save();
      ctx.strokeStyle = '#111';
      ctx.lineWidth = 1.6;
      ctx.strokeRect(a.left, a.top, a.right - a.left, a.bottom - a.top);
      ctx.font = '11px ' + sans;
      ctx.fillStyle = '#444';
      ctx.textAlign = 'center';
      ctx.textBaseline = 'middle';
      p.ids.forEach(function (d) {
        ctx.fillText(d[0], chart.scales.x.getPixelForValue(d[1]), chart.scales.y.getPixelForValue(d[2]));
      });
      ctx.restore();
    }
  };

  new Chart(canvas, {
    type: 'scatter',
    data: {
      datasets: [
        {
          type: 'line',
          data: toXY([[p.xr[0], 0], [p.xr[1], 0]]),
          borderColor: '#c4c4c4',
          borderWidth: 1,
          borderDash: [1, 3],
          pointRadius: 0,
          order: 4
        },
        {
          data: toXY(p.den),
          pointRadius: p.dense,
          pointBackgroundColor: '#000',
          pointBorderColor: '#000',
          pointBorderWidth: 0,
          order: 3
        },
        {
          data: toXY(p.pts),
          pointRadius: 3.2,
          pointBackgroundColor: 'rgba(0,0,0,0)',
          pointBorderColor: 'rgba(0,0,0,0.95)',
          pointBorderWidth: p.ring,
          order: 2
        },
        {
          type: 'line',
          data: toXY(p.sm),
          borderColor: '#f01414',
          borderWidth: 1.6,
          pointRadius: 0,
          tension: 0.3,
          order: 1
        }
      ]
    },
    options: {
      responsive: false,
      animation: false,
      devicePixelRatio: 1,
      layout: { padding: { left: 0, top: 3.3, right: rightPad, bottom: 0 } },
      plugins: {
        legend: { display: false },
        tooltip: { enabled: false },
        title: {
          display: true,
          fullSize: false,
          text: 'Residuals vs Fitted',
          color: '#1c2733',
          font: { family: sans, size: 21, weight: 'normal' },
          padding: { top: 0, bottom: 0.5 }
        }
      },
      scales: {
        x: {
          type: 'linear',
          min: p.xr[0],
          max: p.xr[1],
          afterBuildTicks: function (scale) {
            scale.ticks = p.xt.map(function (v) { return { value: v }; });
          },
          afterFit: function (scale) { scale.height = xAxisHeight; },
          grid: { drawOnChartArea: false, drawTicks: true, tickLength: 5, tickColor: '#111', lineWidth: 1.3 },
          border: { display: false },
          ticks: {
            autoSkip: false,
            maxRotation: 0,
            padding: 15,
            color: '#222',
            font: { family: sans, size: 13.5 },
            callback: function (v) { return Number(v).toFixed(p.dec); }
          },
          title: {
            display: true,
            text: 'Fitted values',
            color: '#333',
            font: { family: sans, size: 13.5 },
            padding: { top: 0, bottom: 0 }
          }
        },
        y: {
          type: 'linear',
          min: p.yr[0],
          max: p.yr[1],
          afterBuildTicks: function (scale) {
            scale.ticks = p.yt.map(function (v) { return { value: v }; });
          },
          afterFit: function (scale) { scale.width = yAxisWidth; },
          grid: { drawOnChartArea: false, drawTicks: true, tickLength: 5, tickColor: '#111', lineWidth: 1.3 },
          border: { display: false },
          ticks: {
            autoSkip: false,
            minRotation: 90,
            maxRotation: 90,
            crossAlign: 'center',
            padding: 12.6,
            color: '#222',
            font: { family: sans, size: 13.5 },
            callback: function (v) {
              if (p.yl.indexOf(v) < 0) return '';
              return v < 0 ? '\u2212' + Math.abs(v) : String(v);
            }
          },
          title: {
            display: true,
            text: 'Residuals',
            color: '#333',
            font: { family: sans, size: 13.5 },
            padding: { top: 0, bottom: 0 }
          }
        }
      }
    },
    plugins: [frameAndIds]
  });
});
</script>
</body>
</html>
